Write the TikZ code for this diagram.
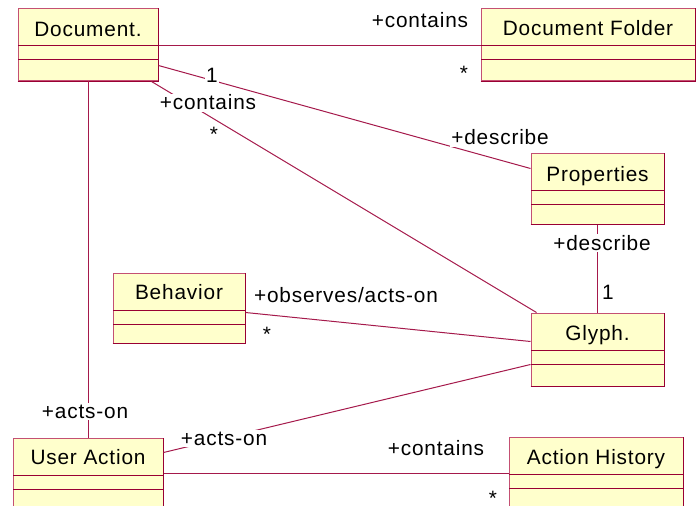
\documentclass[tikz,border=0pt]{standalone}
\usepackage{fontspec}
\setmainfont{Liberation Sans}[LetterSpace=4]
\usetikzlibrary{fit,calc}
\definecolor{umlfill}{RGB}{255,255,204}
\definecolor{umldark}{RGB}{153,0,51}
\definecolor{umllight}{RGB}{196,80,115}
\definecolor{umlline}{RGB}{165,25,75}
\newcommand\lbfont{\fontsize{15.6}{18}\selectfont}
% name, x1, y1, x2, y2, text, baseline
\newcommand\umlcls[7]{%
  \node[cls, fit={(#2,#3) (#4,#5)}] (#1) {};
  \draw[umldark, line width=0.75pt] (#2,#3+37) -- (#4,#3+37) (#2,#3+51) -- (#4,#3+51);
  \draw[umldark, line width=1.3pt] (#1.south west) -- (#1.south east) -- (#1.north east);
  \node[nm] (#1-name) at ({(#2+#4)/2},#7) {#6};
}
\begin{document}
\begin{tikzpicture}[x=0.75pt,y=-0.75pt,
  cls/.style={draw=umllight, fill=umlfill, line width=0.75pt, inner sep=0pt},
  conn/.style={draw=umlline, line width=0.75pt},
  lbl/.style={fill=white, inner sep=1pt, font=\lbfont, anchor=base},
  nm/.style={font=\lbfont, inner sep=0pt, anchor=base}]
\useasboundingbox (0,0) rectangle (696,506);
\clip (0,0) rectangle (696,506);
\fill[white] (0,0) rectangle (696,506);

\coordinate (l1) at (0,46);
\coordinate (l2) at (0,473);

% classes
\umlcls{doc}{18}{9}{158}{81}{Document.}{37}
\umlcls{folder}{481}{9}{695}{81}{Document Folder}{36}
\umlcls{props}{531}{154}{664}{224}{Properties}{182}
\umlcls{glyph}{531}{313}{664}{386}{Glyph.}{340}
\umlcls{beh}{113}{273}{245}{343}{Behavior}{299}
\umlcls{ua}{13}{438}{163}{520}{User Action}{464}
\umlcls{ah}{509}{437}{683}{520}{Action History}{464}

% connectors
\draw[conn] (doc.east |- l1) -- (folder.west |- l1);
\draw[conn] ($(doc.north east)+(0,57)$) -- ($(props.north west)+(0,15)$);
\draw[conn] ($(doc.south east)+(-7,0)$) -- ($(glyph.north west)+(6,0)$);
\draw[conn] (doc.south) -- (ua.north);
\draw[conn] (props.south) -- (glyph.north);
\draw[conn] ($(beh.north east)+(0,40)$) -- ($(glyph.north west)+(0,29)$);
\draw[conn] ($(ua.north east)+(0,15)$) -- ($(glyph.north west)+(0,52)$);
\draw[conn] (ua.east |- l2) -- (ah.west |- l2);

% labels
\node[lbl] (t1) at (420,28) {+contains};
\node[lbl] (t2) at (464,81) {*};
\node[lbl] (t3) at (212,83) {1};
\node[lbl] (t4) at (208,110) {+contains};
\node[lbl] (t5) at (214,142) {*};
\node[lbl] (t6) at (500,145) {+describe};
\node[lbl] (t7) at (602,250) {+describe};
\node[lbl] (t8) at (608,299) {1};
\node[lbl] (t9) at (346,302) {+observes/acts-on};
\node[lbl] (t10) at (267,341) {*};
\node[lbl] (t11) at (85,418) {+acts-on};
\node[lbl] (t12) at (224,445) {+acts-on};
\node[lbl] (t13) at (436,455) {+contains};
\node[lbl, inner sep=0pt] (t14) at (493,505) {*};
\end{tikzpicture}
\end{document}
